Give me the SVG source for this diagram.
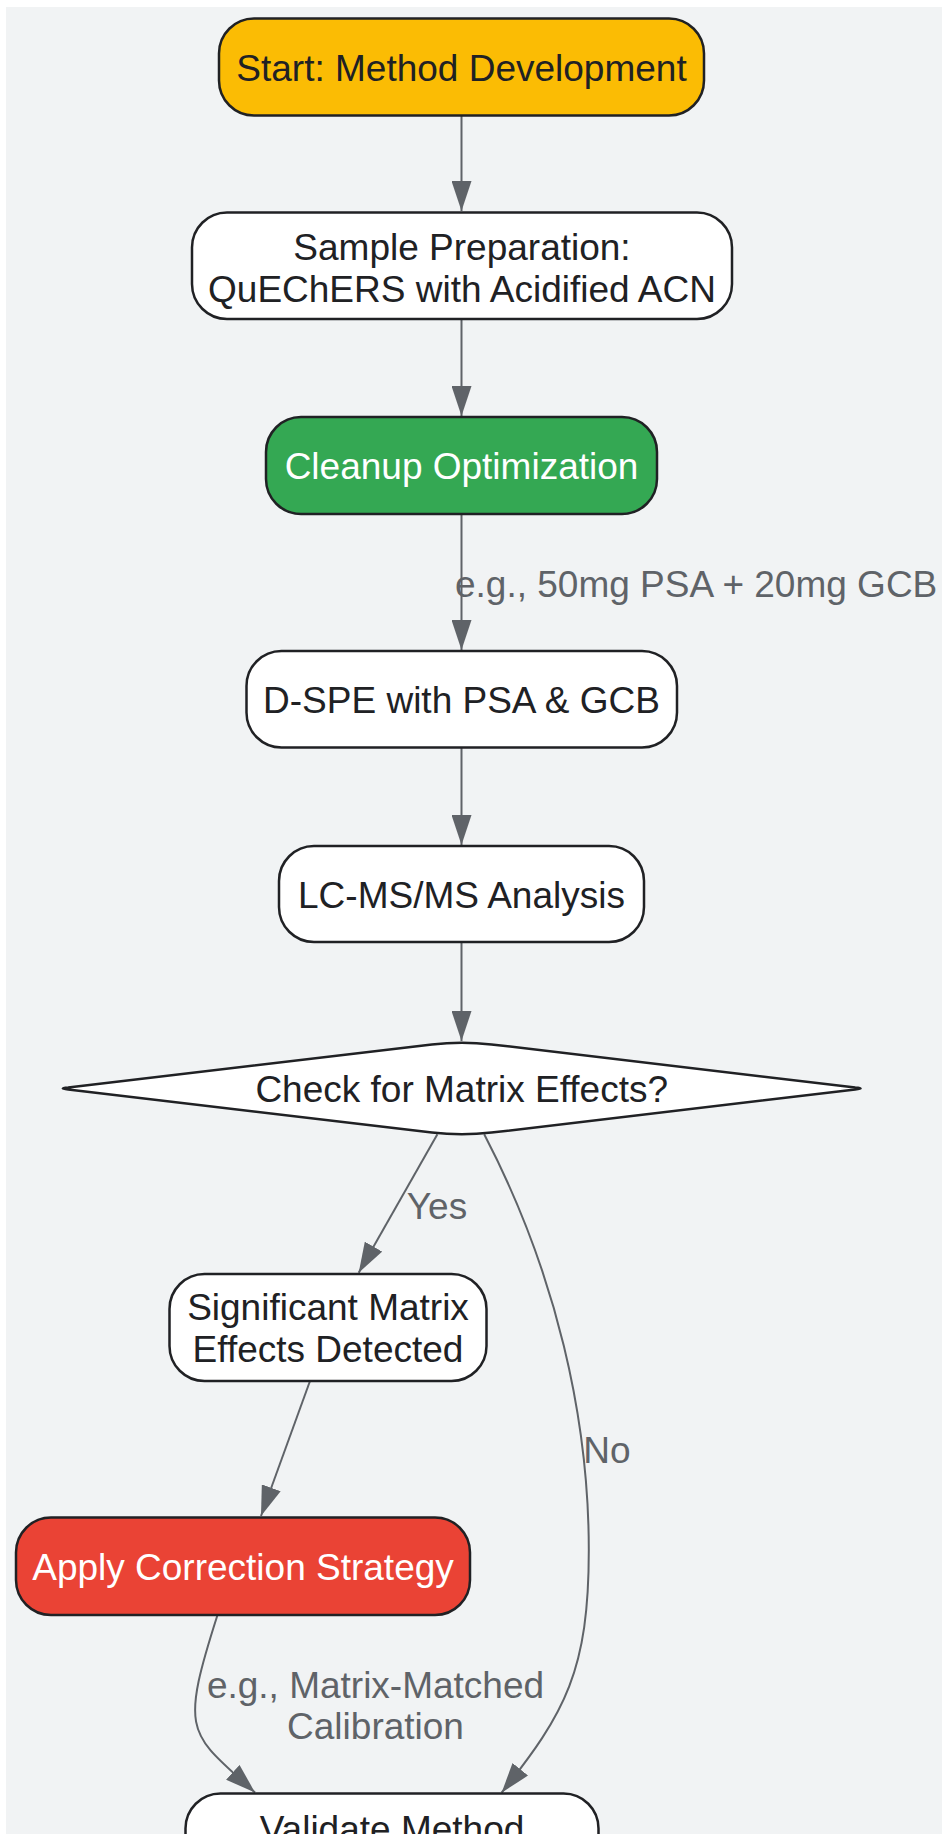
<svg xmlns="http://www.w3.org/2000/svg" width="942" height="1834" viewBox="0 0 942 1834">
<style>
.bg{fill:#f1f3f4}
.node{stroke:#202124;stroke-width:2.5}
.white{fill:#ffffff}
.yellow{fill:#fbbc04}
.green{fill:#34a853}
.red{fill:#ea4335}
.t{font-family:"Liberation Sans",Arial,sans-serif;font-size:37px;fill:#202124;text-anchor:middle}
.tw{fill:#ffffff}
.edge{fill:none;stroke:#5f6368;stroke-width:2}
.lbl{font-family:"Liberation Sans",Arial,sans-serif;font-size:37px;fill:#5f6368}
</style>
<defs>
<marker id="arrow" markerUnits="userSpaceOnUse" viewBox="0 0 30 20" markerWidth="30" markerHeight="20" refX="30" refY="10" orient="auto">
<path d="M0,0 L30,10 L0,20 z" fill="#5f6368"/>
</marker>
</defs>
<rect class="bg" x="6" y="7" width="936" height="1827"/>
<g id="connectors">
<path class="edge" d="M461.5,115 L461.5,211" marker-end="url(#arrow)"/>
<path class="edge" d="M461.5,319 L461.5,416" marker-end="url(#arrow)"/>
<path class="edge" d="M461.5,514 L461.5,650" marker-end="url(#arrow)"/>
<path class="edge" d="M461.5,747.5 L461.5,845" marker-end="url(#arrow)"/>
<path class="edge" d="M461.5,942 L461.5,1041" marker-end="url(#arrow)"/>
<path class="edge" d="M437.4,1134.3 L358.7,1272.7" marker-end="url(#arrow)"/>
<path class="edge" d="M484.2,1134.3 C557,1274 588.8,1420 588.8,1550 C588.8,1670 565.6,1712.7 501.6,1792.7" marker-end="url(#arrow)"/>
<path class="edge" d="M310,1381 L261,1516" marker-end="url(#arrow)"/>
<path class="edge" d="M217.5,1615 C179.1,1735 189,1732.5 255,1792.5" marker-end="url(#arrow)"/>
<text class="lbl" x="455" y="597">e.g., 50mg PSA + 20mg GCB</text>
<text class="lbl" x="437" y="1219" text-anchor="middle">Yes</text>
<text class="lbl" x="607" y="1463" text-anchor="middle">No</text>
<text class="lbl" x="375.5" y="1698" text-anchor="middle">e.g., Matrix-Matched</text>
<text class="lbl" x="375.5" y="1739" text-anchor="middle">Calibration</text>
</g>
<g id="start">
<rect class="node yellow" x="219" y="18.5" width="485" height="97" rx="35" ry="35"/>
<text class="t" x="461.5" y="80.5">Start: Method Development</text>
</g>
<g id="sample">
<rect class="node white" x="192" y="212.5" width="540" height="106.5" rx="35" ry="35"/>
<text class="t" x="462" y="260">Sample Preparation:</text>
<text class="t" x="462" y="301.5">QuEChERS with Acidified ACN</text>
</g>
<g id="cleanup">
<rect class="node green" x="266" y="417" width="391" height="97" rx="35" ry="35"/>
<text class="t tw" x="461.5" y="479">Cleanup Optimization</text>
</g>
<g id="dspe">
<rect class="node white" x="246.5" y="651" width="430.5" height="96.5" rx="35" ry="35"/>
<text class="t" x="461.5" y="713">D-SPE with PSA &amp; GCB</text>
</g>
<g id="lcms">
<rect class="node white" x="279" y="846" width="365" height="96" rx="35" ry="35"/>
<text class="t" x="461.5" y="907.5">LC-MS/MS Analysis</text>
</g>
<g id="check">
<path class="node white" d="M431.9,1044.4 Q461.7,1041 491.5,1044.4 L855.2,1087.6 Q866,1088.5 855.2,1089.4 L491.5,1132.6 Q461.7,1136 431.9,1132.6 L68.2,1089.4 Q57.4,1088.5 68.2,1087.6 Z"/>
<text class="t" x="461.7" y="1101.5">Check for Matrix Effects?</text>
</g>
<g id="significant">
<rect class="node white" x="169.5" y="1274" width="317" height="107" rx="35" ry="35"/>
<text class="t" x="328" y="1320">Significant Matrix</text>
<text class="t" x="328" y="1361.5">Effects Detected</text>
</g>
<g id="apply">
<rect class="node red" x="16" y="1517.5" width="454" height="97.5" rx="35" ry="35"/>
<text class="t tw" x="243" y="1580">Apply Correction Strategy</text>
</g>
<g id="validate">
<rect class="node white" x="185.5" y="1793.5" width="413" height="97" rx="35" ry="35"/>
<text class="t" x="392" y="1841.5">Validate Method</text>
</g>
</svg>
